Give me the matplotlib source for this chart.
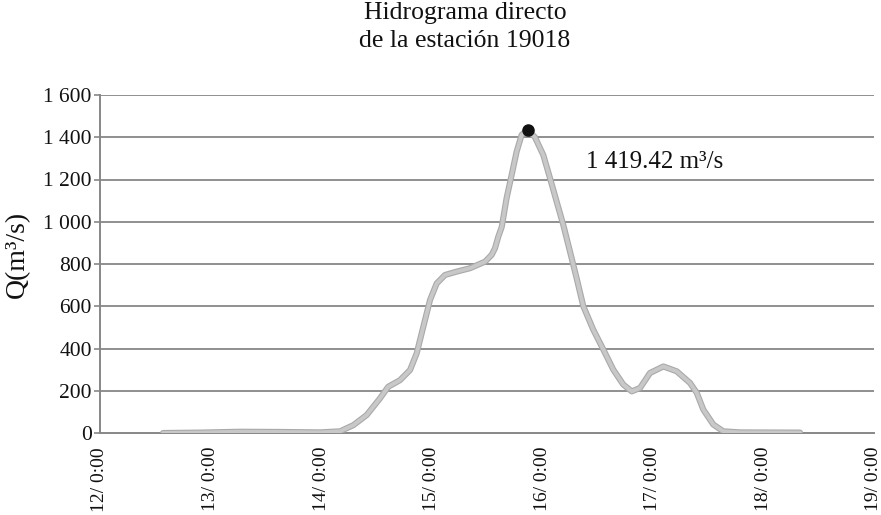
import matplotlib
matplotlib.use("Agg")
import matplotlib.pyplot as plt
import matplotlib.patheffects as pe

plt.rcParams['font.family'] = ['Liberation Serif', 'DejaVu Serif']

# Data (day of month, discharge m3/s)
days = [12.570, 12.904, 13.266, 13.628, 13.990, 14.171, 14.291, 14.412, 14.532,
        14.607, 14.713, 14.804, 14.864, 14.924, 14.985, 15.045, 15.120, 15.226,
        15.346, 15.482, 15.542, 15.572, 15.602, 15.633, 15.677, 15.723, 15.768,
        15.813, 15.867, 15.934, 16.009, 16.070, 16.130, 16.190, 16.251, 16.311,
        16.371, 16.461, 16.552, 16.642, 16.733, 16.809, 16.884, 16.974, 17.095,
        17.216, 17.336, 17.397, 17.456, 17.547, 17.637, 17.788, 18.331]
flow = [0, 2, 6, 5, 3, 8, 37, 85, 164,
        219, 250, 298, 377, 503, 630, 708, 748, 764,
        780, 811, 843, 874, 929, 975, 1111, 1222, 1332,
        1411, 1436, 1400, 1316, 1206, 1095, 985, 858, 732,
        600, 489, 395, 300, 229, 197, 213, 284, 315,
        292, 237, 190, 111, 40, 8, 3, 2]

peak_day = 15.867
peak_flow = 1436
peak_label = "1 419.42 m³/s"

x_ticks = [12, 13, 14, 15, 16, 17, 18, 19]
x_labels = ["12/ 0:00", "13/ 0:00", "14/ 0:00", "15/ 0:00",
            "16/ 0:00", "17/ 0:00", "18/ 0:00", "19/ 0:00"]
y_ticks = [0, 200, 400, 600, 800, 1000, 1200, 1400, 1600]
y_labels = ["0", "200", "400", "600", "800", "1 000", "1 200", "1 400", "1 600"]

title = "Hidrograma directo\nde la estación 19018"
ylabel = "Q(m³/s)"

W, H = 881, 515
fig = plt.figure(figsize=(W / 100, H / 100), dpi=100)
ax = fig.add_axes([100 / W, 1 - 433 / H, (874 - 100) / W, (433 - 95) / H])

grid_c = '#878787'
for yv in y_ticks[1:]:
    ax.axhline(yv, color=grid_c, lw=1.3, zorder=1)

ax.plot(days, flow, color='#c8c8c8', lw=2.8, solid_capstyle='round',
        solid_joinstyle='round', zorder=3,
        path_effects=[pe.Stroke(linewidth=4.4, foreground='#a9a9a9'), pe.Normal()])
ax.plot([peak_day], [peak_flow], 'o', color='#111111', ms=8, zorder=4)
ax.text(16.395, 1283, peak_label, fontsize=18, ha='left', va='center', color='#111111')

ax.set_xlim(12, 19)
ax.set_ylim(0, 1600)
ax.set_xticks(x_ticks)
ax.set_xticklabels(x_labels, rotation=90, fontsize=14, va='top', ha='center')
ax.set_yticks(y_ticks)
ax.set_yticklabels(y_labels, fontsize=15.5)
ax.tick_params(axis='x', length=0, pad=10, colors='#111111')
ax.tick_params(axis='y', length=4, width=1.2, color=grid_c, pad=2, labelcolor='#111111')

for s in ['top', 'right']:
    ax.spines[s].set_visible(False)
for s in ['left', 'bottom']:
    ax.spines[s].set_color(grid_c)
    ax.spines[s].set_linewidth(1.4)
    ax.spines[s].set_zorder(2)

fig.text(465 / W, 1 - 27 / H, title, ha='center', va='center', fontsize=18.5,
         multialignment='center', linespacing=1.3, color='#111111')
fig.text(17 / W, 1 - 254 / H, ylabel, rotation=90, ha='center', va='center',
         fontsize=20, color='#111111')

fig.savefig('out.png', dpi=100)
